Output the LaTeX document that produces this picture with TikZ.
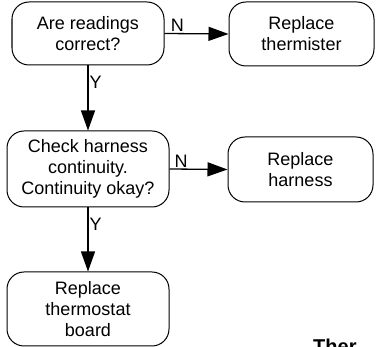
\documentclass[tikz,border=0pt]{standalone}
\usepackage{fontspec}
\setmainfont{Liberation Sans}
\usetikzlibrary{arrows.meta}
\begin{document}
\begin{tikzpicture}[x=1pt,y=-1pt,
  box/.style={draw, line width=1pt, rounded corners=17pt, align=center,
    font=\fontsize{18}{21}\selectfont, inner sep=0pt},
  arr/.style={line width=1.3pt, -{Triangle[length=20pt,width=14pt]}},
  lbl/.style={font=\fontsize{18}{21}\selectfont, inner sep=1pt}]
\useasboundingbox (0,0) rectangle (376,347);
\clip (0,0) rectangle (376,347);
\node[box, minimum width=152pt, minimum height=63pt] (b1) at (88,33.5) {Are readings\\correct?};
\node[box, minimum width=145pt, minimum height=64pt] (b2) at (301.5,34) {Replace\\thermister};
\node[box, minimum width=162pt, minimum height=76pt] (b3) at (88,169) {Check harness\\continuity.\\Continuity okay?};
\node[box, minimum width=145pt, minimum height=65pt] (b4) at (300.5,169.5) {Replace\\harness};
\node[box, minimum width=162pt, minimum height=74pt] (b5) at (88,309) {Replace\\thermostat\\board};
\draw[arr] (b1.east) -- node[lbl, pos=0.2, above] {N} (b2.west);
\draw[arr] (b3.east) -- node[lbl, pos=0.2, above] {N} (b4.west);
\draw[arr] (b1.south) -- node[lbl, pos=0.26, right] {Y} (b3.north);
\draw[arr] (b3.south) -- node[lbl, pos=0.26, right] {Y} (b5.north);
\node[anchor=north west, inner sep=0pt, font=\fontsize{20}{24}\selectfont\bfseries] (t) at (313,339) {Ther};
\end{tikzpicture}
\end{document}
